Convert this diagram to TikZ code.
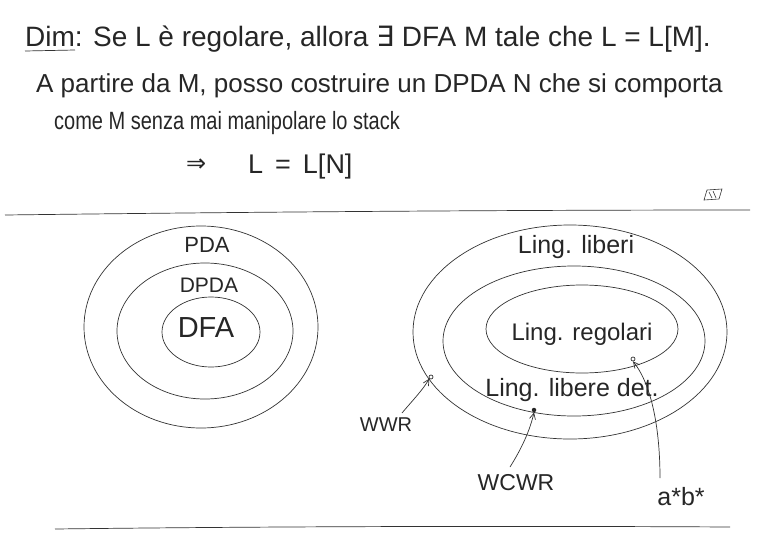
\documentclass[tikz,border=0pt]{standalone}
\usepackage{graphicx}
\usepackage{fontspec}
\setmainfont{Liberation Sans}
\newfontfamily\symf{DejaVu Sans}
\usetikzlibrary{arrows.meta}
\tikzset{
  pen/.style={line width=0.7pt, draw=black!80},
  txt/.style={inner sep=0pt, anchor=base west, text=black!85},
  lbl/.style={inner sep=1pt, text=black!85},
  ptr/.style={pen, -{Straight Barb[length=6pt,width=6pt]}},
  odot/.style={circle, draw=black!80, line width=0.7pt, inner sep=0pt, minimum size=4pt},
  fdot/.style={circle, fill=black!85, inner sep=0pt, minimum size=4.5pt}
}
\begin{document}
\begin{tikzpicture}[x=1pt,y=-1pt]
\useasboundingbox (0,0) rectangle (763,538);
% text
\node[txt, font=\fontsize{28}{30}\selectfont] (l1) at (25,46) {Dim: Se L è regolare, allora {\symf ∃} DFA M tale che L = L[M].};
\draw[pen] (25,51) -- (75,50);
\node[txt, font=\fontsize{26}{28}\selectfont] (l2) at (36,92) {A partire da M, posso costruire un DPDA N che si comporta};
\node[txt, font=\fontsize{25}{28}\selectfont] (l3) at (54,129) {\scalebox{0.8}[1]{come M senza mai manipolare lo stack}};
\node[txt, font=\fontsize{24}{28}\selectfont] (impl) at (186,171) {\symf ⇒};
\node[txt, font=\fontsize{27}{28}\selectfont] (l4) at (248,173) {L\, = \,L[N]};
% qed mark
\draw[pen, line width=0.6pt] (707,190) -- (722,189) -- (719,199) -- (704,200) -- cycle;
\draw[pen, line width=0.6pt] (709,192) -- (712,198) (713,191) -- (716,198);
% separators
\draw[pen] (5,215) .. controls (250,212) and (500,210) .. (750,210);
\draw[pen] (55,529) .. controls (300,526) and (550,526) .. (730,527);
% left diagram
\draw[pen] (201,327) ellipse [x radius=117, y radius=101];
\draw[pen] (205,331) ellipse [x radius=88, y radius=68];
\draw[pen] (211,332) ellipse [x radius=49, y radius=35];
\node[lbl, font=\fontsize{22}{24}\selectfont] (pda) at (207,245) {PDA};
\node[lbl, font=\fontsize{21}{24}\selectfont] (dpda) at (209,285) {DPDA};
\node[lbl, font=\fontsize{29}{30}\selectfont] (dfa) at (206,328) {DFA};
% right diagram
\draw[pen] (570,332) ellipse [x radius=157, y radius=107];
\draw[pen] (574,341) ellipse [x radius=131, y radius=75];
\draw[pen] (582,329) ellipse [x radius=96, y radius=44];
\node[lbl, font=\fontsize{25}{27}\selectfont] (lib) at (576,247) {Ling. liberi};
\node[lbl, font=\fontsize{24}{26}\selectfont] (reg) at (582,334) {Ling. regolari};
\node[lbl, font=\fontsize{25}{27}\selectfont] (det) at (572,390) {Ling. libere det.};
% points
\node[odot] (p1) at (431,377) {};
\node[fdot] (p2) at (534,410) {};
\node[odot] (p3) at (633,359) {};
% labels of points
\node[lbl, font=\fontsize{20}{22}\selectfont] (wwr) at (386,425) {WWR};
\node[lbl, font=\fontsize{23}{25}\selectfont] (wcwr) at (516,483) {WCWR};
\node[lbl, font=\fontsize{25}{27}\selectfont] (ab) at (681,497) {a*b*};
% pointer starts
\coordinate (s1) at (402,413);
\coordinate (s2) at (510,467);
\coordinate (s3) at (660,478);
% pointers
\draw[ptr] (s1) .. controls (412,401) and (422,391) .. (p1.south west);
\draw[ptr] (s2) .. controls (522,448) and (530,430) .. (p2.south);
\draw[ptr] (s3) .. controls (660,430) and (652,385) .. (p3.south);
\end{tikzpicture}
\end{document}
